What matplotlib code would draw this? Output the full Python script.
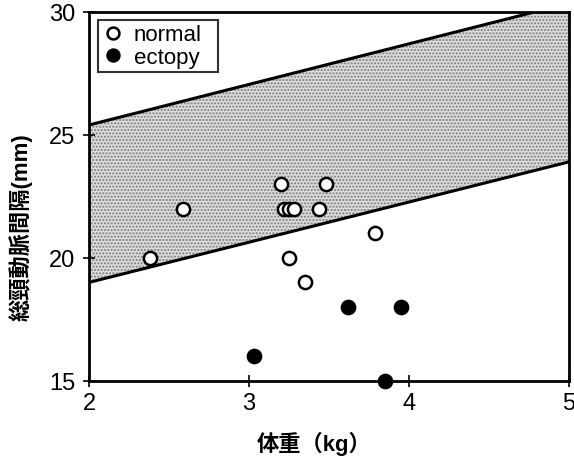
import matplotlib
matplotlib.use("Agg")
import matplotlib.pyplot as plt
import numpy as np

plt.rcParams['font.family'] = ['Liberation Sans', 'Noto Sans CJK JP', 'DejaVu Sans']
plt.rcParams['hatch.color'] = '#6a6a6a'
plt.rcParams['hatch.linewidth'] = 1.0

# data
normal_x = [2.38, 2.59, 3.20, 3.22, 3.25, 3.28, 3.44, 3.48, 3.79, 3.25, 3.35]
normal_y = [20, 22, 23, 22, 22, 22, 22, 23, 21, 20, 19]
ectopy_x = [3.03, 3.62, 3.95, 3.85]
ectopy_y = [16, 18, 18, 15]

# normal range band (two parallel lines)
band_x = [2, 5]
band_low = [19.0, 23.9]
band_high = [25.4, 30.35]

fig = plt.figure(figsize=(5.74, 4.6), dpi=100)
ax = fig.add_axes([0.155, 0.170, 0.836, 0.802])

ax.fill_between(band_x, band_low, band_high, facecolor='#dcdcdc',
                hatch='.....', edgecolor='#7a7a7a', linewidth=0, zorder=1)
ax.plot(band_x, band_low, color='black', lw=2.2, zorder=2)
ax.plot(band_x, band_high, color='black', lw=2.2, zorder=2)

ax.plot(normal_x, normal_y, 'o', ms=9.5, mfc='white', mec='black', mew=1.8,
        label='normal', zorder=3, clip_on=False)
ax.plot(ectopy_x, ectopy_y, 'o', ms=9.5, mfc='black', mec='black', mew=1.8,
        label='ectopy', zorder=3, clip_on=False)

ax.set_xlim(2, 5)
ax.set_ylim(15, 30)
ax.set_xticks([2, 3, 4, 5])
ax.set_yticks([15, 20, 25, 30])
ax.tick_params(direction='inout', length=8, width=1.2, labelsize=17)
ax.tick_params(axis='y', pad=6)
ax.tick_params(axis='x', pad=4)

for s in ['left', 'bottom', 'top', 'right']:
    ax.spines[s].set_linewidth(2.0)

ax.set_xlabel('体重（kg）', fontsize=16, fontweight='bold')
ax.set_ylabel('総頸動脈間隔(mm)', fontsize=16, fontweight='bold')
ax.xaxis.set_label_coords(0.47, -0.135)
ax.yaxis.set_label_coords(-0.118, 0.42)

leg = ax.legend(loc='upper left', fontsize=16, frameon=True, fancybox=False,
                edgecolor='black', handletextpad=0.5, handlelength=0.9,
                borderpad=0.2, labelspacing=0.05, borderaxespad=0,
                markerscale=0.9, mode='expand',
                bbox_to_anchor=(0.019, 0.5, 0.25, 0.478))
leg.get_frame().set_linewidth(1.5)

fig.savefig('out.png', dpi=100)
